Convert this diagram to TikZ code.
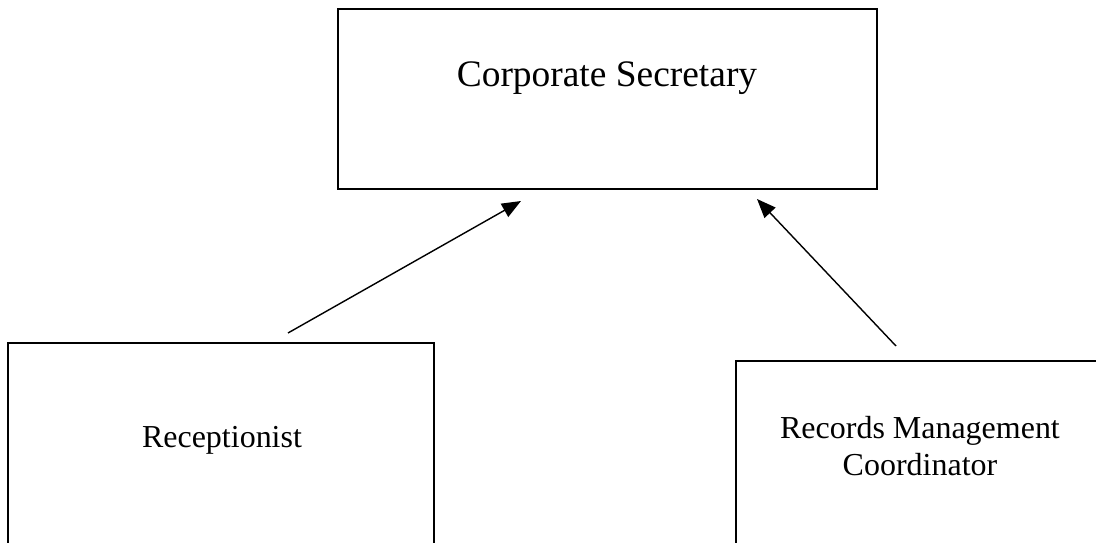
\documentclass[tikz,border=0pt]{standalone}
\usepackage{fontspec}
\setmainfont{Liberation Serif}
\usetikzlibrary{arrows.meta}
\begin{document}
\begin{tikzpicture}[x=0.02cm,y=-0.02cm,line join=miter,>={Triangle[length=0.38cm,width=0.3cm]},
  box/.style={draw,line width=1.1pt,inner sep=0pt},
  txt/.style={font=\fontsize{18.2}{21.2}\selectfont,align=center,inner sep=0pt}]
\useasboundingbox (0,0) rectangle (1096,543);
\clip (0,0) rectangle (1096,543);
\node[box,minimum width=10.78cm,minimum height=3.6cm] (sec) at (607.5,99) {};
\node[box,minimum width=8.52cm,minimum height=4.04cm] (rec) at (221,444) {};
\node[box,minimum width=7.36cm,minimum height=4cm] (rmc) at (920,461) {};
\node[txt,font=\fontsize{21.3}{24}\selectfont] (sectext) at (607,78) {Corporate Secretary};
\node[txt] (rectext) at (222,440) {Receptionist};
\node[txt] (rmctext) at (920,446) {Records Management\\Coordinator};
\coordinate (recout) at (288,333);
\coordinate (secin1) at (521,201);
\coordinate (rmcout) at (896,346);
\coordinate (secin2) at (757,199);
\draw[->,line width=0.8pt] (recout)--(secin1);
\draw[->,line width=0.8pt] (rmcout)--(secin2);
\end{tikzpicture}
\end{document}
